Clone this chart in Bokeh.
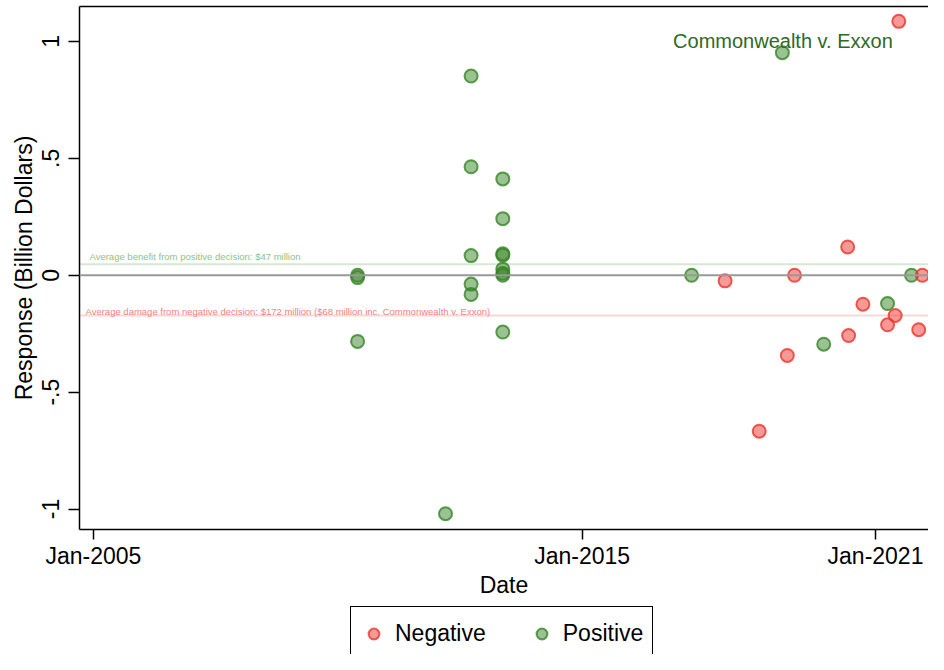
import pandas as pd
from bokeh.plotting import figure
from bokeh.layouts import column
from bokeh.models import (Range1d, FixedTicker, LinearAxis, Span, Label, Legend,
                          LegendItem, ColumnDataSource, DatetimeTickFormatter)
from bokeh.embed import file_html
from bokeh.resources import INLINE

# ---- data ----
pos_dates = ["2010-05-29", "2010-05-29", "2010-05-29", "2012-03-16",
             "2012-09-23", "2012-09-23", "2012-09-23", "2012-09-23", "2012-09-23",
             "2013-05-18", "2013-05-18", "2013-05-18", "2013-05-18", "2013-05-18",
             "2013-05-18", "2013-05-18", "2013-05-18",
             "2017-03-29", "2019-02-05", "2019-12-11", "2021-04-01", "2021-09-27"]
pos_values = [0.0, -0.01, -0.283, -1.02,
              0.852, 0.464, 0.084, -0.038, -0.082,
              0.412, 0.242, 0.092, 0.086, 0.026, 0.008, 0.0, -0.243,
              0.0, 0.952, -0.295, -0.121, 0.0]

neg_dates = ["2017-12-04", "2018-08-16", "2019-03-14", "2019-05-07",
             "2020-06-07", "2020-06-14", "2020-09-29", "2021-04-01",
             "2021-05-28", "2021-06-24", "2021-11-20", "2021-12-17"]
neg_values = [-0.024, -0.667, -0.343, 0.0,
              0.121, -0.258, -0.124, -0.212,
              -0.172, 1.086, -0.233, 0.0]

avg_pos = 0.047
avg_neg = -0.172
label_pos = "Average benefit from positive decision: $47 million"
label_neg = "Average damage from negative decision: $172 million ($68 million inc. Commonwealth v. Exxon)"
case_label = "Commonwealth v. Exxon"
legend_labels = ["Negative", "Positive"]

x_ticks = ["2005-01-01", "2015-01-01", "2021-01-01"]
y_ticks = [-1, -0.5, 0, 0.5, 1]
y_tick_labels = ["-1", "-.5", "0", ".5", "1"]

x_start = pd.Timestamp("2004-09-19")
x_end = pd.Timestamp("2022-02-01")
y_start, y_end = -1.0875, 1.1494

FONT = "Liberation Sans"
GREEN = "#378527"
RED = "#eb352d"

pos_src = ColumnDataSource(dict(x=pd.to_datetime(pos_dates), y=pos_values))
neg_src = ColumnDataSource(dict(x=pd.to_datetime(neg_dates), y=neg_values))

marker_style = dict(size=13, fill_alpha=0.5, line_alpha=0.8, line_width=2)

p = figure(width=928, height=600, x_axis_type="datetime",
           x_range=Range1d(x_start, x_end), y_range=Range1d(y_start, y_end),
           output_backend="svg", toolbar_location=None, title=None,
           min_border_left=79, min_border_right=0, min_border_top=6, min_border_bottom=70)
p.background_fill_color = "white"
p.border_fill_color = "white"
p.outline_line_color = None
p.grid.visible = False

# zero line and averages
p.add_layout(Span(location=0, dimension="width", line_color="#999999", line_width=2))
p.add_layout(Span(location=avg_pos, dimension="width", line_color=GREEN, line_alpha=0.2, line_width=2))
p.add_layout(Span(location=avg_neg, dimension="width", line_color=RED, line_alpha=0.2, line_width=2))

p.add_layout(Label(x=x_start, y=avg_pos, text=label_pos, x_offset=10, y_offset=8,
                   text_font=FONT, text_font_size="9.5px", text_color="#8cc383",
                   text_baseline="alphabetic", text_align="left"))
p.add_layout(Label(x=x_start, y=avg_neg, text=label_neg, x_offset=6, y_offset=4,
                   text_font=FONT, text_font_size="9.5px", text_color="#f2837e",
                   text_baseline="alphabetic", text_align="left"))

r_pos = p.scatter("x", "y", source=pos_src, fill_color=GREEN, line_color=GREEN, **marker_style)
r_neg = p.scatter("x", "y", source=neg_src, fill_color=RED, line_color=RED, **marker_style)

# annotation for Commonwealth v. Exxon
i_case = neg_values.index(max(neg_values))
p.add_layout(Label(x=pd.Timestamp(neg_dates[i_case]), y=1.0, text=case_label,
                   x_offset=-6, text_align="right", text_baseline="middle",
                   text_font=FONT, text_font_size="20px", text_color="#2d6a1f"))

# axes
xa = p.xaxis[0]
xa.ticker = FixedTicker(ticks=[pd.Timestamp(t).value / 1e6 for t in x_ticks])
fmt = "%b-%Y"
xa.formatter = DatetimeTickFormatter(years=fmt, months=fmt, days=fmt, hours=fmt,
                                     minutes=fmt, seconds=fmt, milliseconds=fmt,
                                     microseconds=fmt, hourmin=fmt, minsec=fmt)
xa.axis_label = "Date"
xa.minor_tick_line_color = None
xa.major_tick_in = 0
xa.major_tick_out = 10
xa.major_label_standoff = 3
xa.axis_label_standoff = 0

ya = p.yaxis[0]
ya.ticker = FixedTicker(ticks=y_ticks)
ya.major_label_overrides = {t: l for t, l in zip(y_ticks, y_tick_labels)}
ya.major_label_orientation = "vertical"
ya.axis_label = "Response (Billion Dollars)"
ya.minor_tick_line_color = None
ya.major_tick_in = 0
ya.major_tick_out = 11
ya.major_label_standoff = 9
ya.axis_label_standoff = 3

for ax in (xa, ya):
    ax.axis_line_color = "black"
    ax.axis_line_width = 1.5
    ax.major_tick_line_color = "black"
    ax.major_tick_line_width = 1.5
    ax.major_label_text_font = FONT
    ax.major_label_text_font_size = "23px"
    ax.major_label_text_color = "black"
    ax.axis_label_text_font = FONT
    ax.axis_label_text_font_size = "23px"
    ax.axis_label_text_font_style = "normal"
    ax.axis_label_text_color = "black"

top = LinearAxis(ticker=FixedTicker(ticks=[]), major_tick_out=0, major_tick_in=0,
                 minor_tick_out=0, minor_tick_in=0, axis_line_color="black",
                 axis_line_width=1.5, major_label_text_font_size="0px")
p.add_layout(top, "above")

# ---- legend strip below the chart ----
# same data sources; the points fall outside this strip's ranges, so only the legend keys show
p2 = figure(width=928, height=54, x_range=Range1d(0, 1), y_range=Range1d(0, 1),
            output_backend="svg", toolbar_location=None, title=None,
            x_axis_location=None, y_axis_location=None,
            min_border_left=0, min_border_right=0, min_border_top=0, min_border_bottom=0)
p2.outline_line_color = None
p2.grid.visible = False
k_neg = p2.scatter("x", "y", source=neg_src, fill_color=RED, line_color=RED, **marker_style)
k_pos = p2.scatter("x", "y", source=pos_src, fill_color=GREEN, line_color=GREEN, **marker_style)
legend = Legend(items=[LegendItem(label=legend_labels[0], renderers=[k_neg]),
                       LegendItem(label=legend_labels[1], renderers=[k_pos])],
                orientation="horizontal", location=(271, -7),
                label_text_font=FONT, label_text_font_size="23px", label_text_color="black",
                glyph_width=27, glyph_height=35, label_standoff=8, spacing=42,
                padding=9, margin=0, border_line_color="black", border_line_alpha=1.0,
                border_line_width=1.5, background_fill_alpha=1.0)
p2.add_layout(legend, "center")

open("out.html", "w").write(file_html(column(p, p2, spacing=0), INLINE))
